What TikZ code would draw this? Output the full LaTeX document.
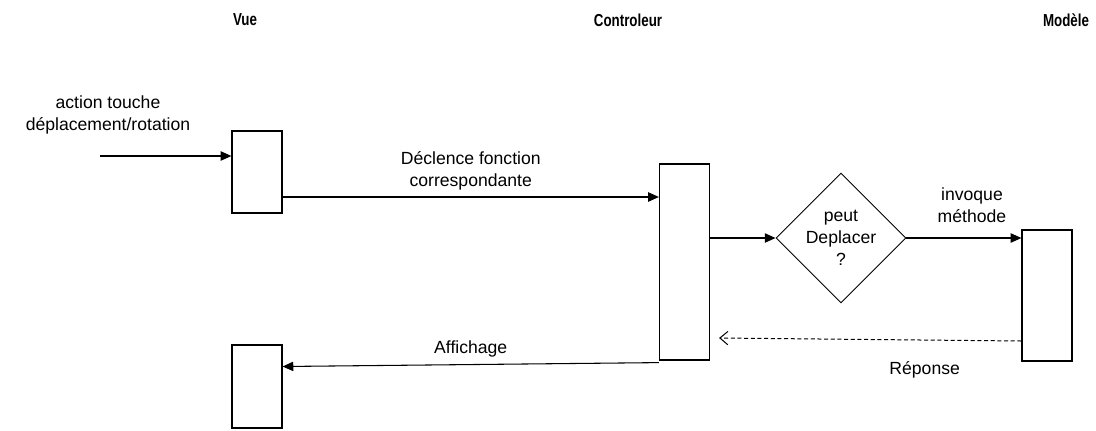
\documentclass[tikz,border=0pt]{standalone}
\usepackage{fontspec}
\setmainfont{Liberation Sans}
\newfontfamily\titrefont[FakeStretch=0.77]{Liberation Sans}
\usetikzlibrary{positioning, shapes, calc, arrows.meta}
\tikzset{
    boite/.style={
        rectangle,
        draw=black,          % schwarze Kontur
        fill=white,
        line width=0.9pt,
        minimum width=37.5pt,
        minimum height=61.5pt
    },
    losange/.style={
        diamond,
        draw=black,
        line width=0.7pt,
        inner sep=0pt,
        minimum width=97.5pt,
        minimum height=97.5pt,
        align=center,
        font=\fontsize{13.2}{16.5}\selectfont
    },
    fleche/.style={
        -{Triangle[length=8pt,width=7pt]},
        line width=0.8pt
    },
    retour/.style={
        -{Straight Barb[length=6pt,width=10pt]},
        dash pattern=on 3pt off 2pt,
        line width=0.75pt
    },
    titre/.style={font=\titrefont\bfseries\fontsize{13}{15}\selectfont},
    texte/.style={align=center, font=\fontsize{13.2}{16.5}\selectfont, inner sep=1pt}
}

\begin{document}
\begin{tikzpicture}[x=0.75pt, y=-0.75pt]

    % Rahmen in Pixelkoordinaten (1096 x 430)
    \useasboundingbox (0,0) rectangle (1096,430);

    % Spaltentitel
    \node[titre] (tvue)  at (245,20)  {Vue};
    \node[titre] (tctrl) at (628,20)  {Controleur};
    \node[titre] (tmod)  at (1066,20) {Modèle};

    % Aktivierungsbalken
    \node[boite] (vue1) at (257,172) {};
    \node[boite, minimum height=147pt] (ctrl) at (684.5,262) {};
    \node[boite, minimum height=98.25pt] (modele) at (1047,295.5) {};
    \node[boite, minimum height=62.25pt] (vue2) at (257,386.5) {};

    % Entscheidung
    \node[losange] (test) at (841,238) {peut\\Deplacer\\?};

    % Eingang
    \node[texte] (action) at (108,115) {action touche\\déplacement/rotation};
    \coordinate (depart) at (100,156);
    \draw[fleche] (depart) -- ($(vue1.west)+(0,-16)$);

    % Nachrichten
    \draw[fleche] ($(vue1.east)+(0,25)$) -- ($(ctrl.west)+(0,-65)$)
        node[texte, midway, above=4pt] {Déclence fonction\\correspondante};
    \draw[fleche] ($(ctrl.east)+(0,-24)$) -- (test.west);
    \draw[fleche] (test.east) -- (modele.west |- test.east)
        node[texte, pos=0.57, above=10pt] {invoque\\méthode};
    \draw[retour] ($(modele.west)+(0,45.5)$) -- ($(ctrl.east)+(9,76)$)
        node[texte, pos=0.32, below=15pt] {Réponse};
    \draw[fleche] ($(ctrl.south west)+(0,2)$) -- ($(vue2.east)+(0,-20)$)
        node[texte, midway, above=4pt] {Affichage};

\end{tikzpicture}
\end{document}
